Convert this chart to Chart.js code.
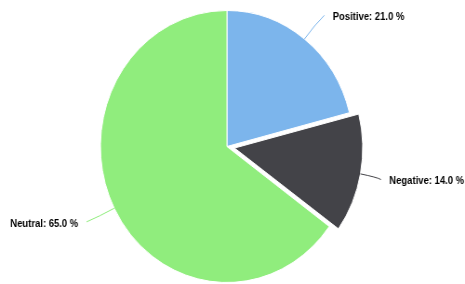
<!DOCTYPE html>
<html>
<head>
<meta charset="utf-8">
<script src="https://cdn.jsdelivr.net/npm/chart.js@4/dist/chart.umd.min.js"></script>
<style>
  html, body { margin: 0; padding: 0; background: #fff; overflow: hidden; }
  #pie { transform: scaleX(0.93); transform-origin: 0 0; }
</style>
</head>
<body>
<canvas id="pie" width="500" height="284"></canvas>
<script>
const categories = ['Positive', 'Negative', 'Neutral'];
const shares = [21.0, 14.0, 65.0];
const colors = ['#7cb5ec', '#434348', '#90ed7d'];

// draws the "Name: 12.0 %" labels with connectors, like the original
const pieLabels = {
  id: 'pieLabels',
  afterDatasetsDraw(chart) {
    const ctx = chart.ctx;
    const meta = chart.getDatasetMeta(0);
    ctx.save();
    ctx.font = 'bold 10.2px "Liberation Sans", Arial, sans-serif';
    ctx.textBaseline = 'middle';
    meta.data.forEach((arc, i) => {
      const mid = (arc.startAngle + arc.endAngle) / 2;
      const circ = arc.endAngle - arc.startAngle;
      const off = (arc.options.offset || 0) / 4;
      const shift = off * (2 - Math.sin(Math.min(Math.PI, circ)));
      const cx = arc.x + Math.cos(mid) * shift;
      const cy = arc.y + Math.sin(mid) * shift;
      const r = arc.outerRadius;
      const ex = cx + Math.cos(mid) * r, ey = cy + Math.sin(mid) * r;
      const ax = cx + Math.cos(mid) * (r + 30), ay = cy + Math.sin(mid) * (r + 30);
      const text = categories[i] + ': ' + shares[i].toFixed(1) + ' %';
      const w = ctx.measureText(text).width;
      const right = Math.cos(mid) >= 0;
      let tx, lx;
      if (right) {
        tx = Math.min(ax + 12, chart.width - w - 1);
        lx = tx - 9;
      } else {
        tx = Math.max(ax - 12, w + 1);
        lx = tx + 9;
      }
      ctx.strokeStyle = colors[i];
      ctx.lineWidth = 1;
      ctx.beginPath();
      ctx.moveTo(ex, ey);
      const kx = cx + Math.cos(mid) * (r + 18), ky = cy + Math.sin(mid) * (r + 18);
      ctx.quadraticCurveTo(kx, ky, lx, ay);
      ctx.stroke();
      ctx.fillStyle = '#000000';
      ctx.textAlign = right ? 'left' : 'right';
      ctx.fillText(text, tx, ay + 2);
    });
    ctx.restore();
  }
};

new Chart(document.getElementById('pie'), {
  type: 'pie',
  data: {
    labels: categories,
    datasets: [{
      data: shares,
      backgroundColor: colors,
      borderColor: '#ffffff',
      borderWidth: 1,
      offset: [0, 33, 0],
      hoverOffset: 0
    }]
  },
  options: {
    responsive: false,
    animation: false,
    radius: 136,
    layout: { padding: { top: 9, right: 12, left: 0, bottom: 0 } },
    plugins: {
      legend: { display: false },
      tooltip: { enabled: false }
    }
  },
  plugins: [pieLabels]
});
</script>
</body>
</html>
